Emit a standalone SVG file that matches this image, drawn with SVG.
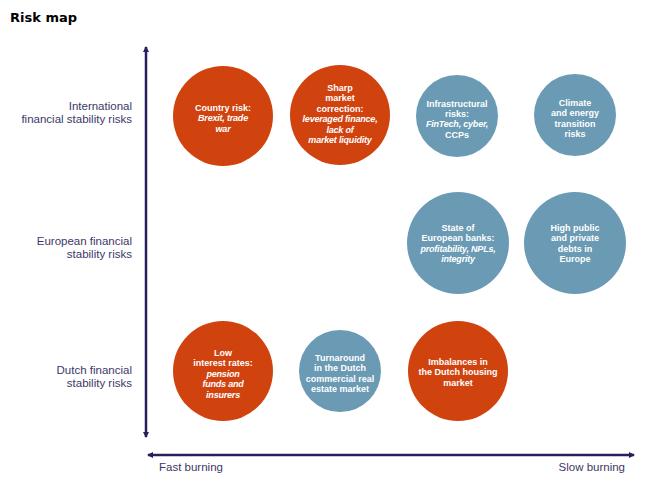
<svg xmlns="http://www.w3.org/2000/svg" width="648" height="483" viewBox="0 0 648 483">
<defs>
<marker id="ah" viewBox="0 0 6 6" refX="5" refY="3" markerWidth="2.4" markerHeight="2.4" orient="auto-start-reverse" markerUnits="strokeWidth">
<path d="M0,0 L6,3 L0,6 z" fill="#2a1f5c"/>
</marker>
<style>
.title{font-family:"DejaVu Sans",sans-serif;font-weight:bold;font-size:13px;fill:#000}
.lab{font-family:"Liberation Sans",Arial,sans-serif;font-size:11.5px;fill:#3d3868}
.c{font-family:"Liberation Sans",Arial,sans-serif;font-size:9px;font-weight:bold;fill:#fff;text-anchor:middle}
.i{font-style:italic;letter-spacing:-0.2px}
.or{fill:#d0430f}
.bl{fill:#6a9ab4}
.ax{stroke:#2a1f5c;stroke-width:2.5;fill:none}
</style>
</defs>
<rect width="648" height="483" fill="#fff"/>
<text class="title" x="10" y="22">Risk map</text>
<g id="labels">
<text class="lab" text-anchor="end"><tspan x="132" y="110">International</tspan><tspan x="132" y="123">financial stability risks</tspan></text>
<text class="lab" text-anchor="end"><tspan x="132" y="245">European financial</tspan><tspan x="132" y="258">stability risks</tspan></text>
<text class="lab" text-anchor="end"><tspan x="132" y="374">Dutch financial</tspan><tspan x="132" y="387">stability risks</tspan></text>
<text class="lab" x="159" y="471">Fast burning</text>
<text class="lab" text-anchor="end" x="625" y="471">Slow burning</text>
</g>
<g id="connectors">
<line class="ax" x1="146" y1="437" x2="146" y2="47" marker-start="url(#ah)" marker-end="url(#ah)"/>
<line class="ax" x1="148" y1="455" x2="634" y2="455" marker-start="url(#ah)" marker-end="url(#ah)"/>
</g>
<g id="country-risk">
<circle class="or" cx="223" cy="116" r="50"/>
<text class="c"><tspan x="223" y="111">Country risk:</tspan><tspan class="i" x="223" y="121.4">Brexit, trade</tspan><tspan class="i" x="223" y="131.8">war</tspan></text>
</g>
<g id="sharp-market">
<circle class="or" cx="340" cy="115" r="50"/>
<text class="c"><tspan x="340" y="91">Sharp</tspan><tspan x="340" y="101.4">market</tspan><tspan x="340" y="111.8">correction:</tspan><tspan class="i" x="340" y="122.2">leveraged finance,</tspan><tspan class="i" x="340" y="132.6">lack of</tspan><tspan class="i" x="340" y="143">market liquidity</tspan></text>
</g>
<g id="infrastructural">
<circle class="bl" cx="457" cy="116" r="41"/>
<text class="c"><tspan x="457" y="106.5">Infrastructural</tspan><tspan x="457" y="116.9">risks:</tspan><tspan class="i" x="457" y="127.3">FinTech, cyber,</tspan><tspan x="457" y="137.7">CCPs</tspan></text>
</g>
<g id="climate">
<circle class="bl" cx="575" cy="115" r="41"/>
<text class="c"><tspan x="575" y="106">Climate</tspan><tspan x="575" y="116.4">and energy</tspan><tspan x="575" y="126.8">transition</tspan><tspan x="575" y="137.2">risks</tspan></text>
</g>
<g id="european-banks">
<circle class="bl" cx="458" cy="243" r="51"/>
<text class="c"><tspan x="458" y="231">State of</tspan><tspan x="458" y="241.4">European banks:</tspan><tspan class="i" x="458" y="251.8">profitability, NPLs,</tspan><tspan class="i" x="458" y="262.2">integrity</tspan></text>
</g>
<g id="public-private-debts">
<circle class="bl" cx="575" cy="243" r="51"/>
<text class="c"><tspan x="575" y="231">High public</tspan><tspan x="575" y="241.4">and private</tspan><tspan x="575" y="251.8">debts in</tspan><tspan x="575" y="262.2">Europe</tspan></text>
</g>
<g id="low-interest">
<circle class="or" cx="223" cy="371" r="50"/>
<text class="c"><tspan x="223" y="356">Low</tspan><tspan x="223" y="366.4">interest rates:</tspan><tspan class="i" x="223" y="376.8">pension</tspan><tspan class="i" x="223" y="387.2">funds and</tspan><tspan class="i" x="223" y="397.6">insurers</tspan></text>
</g>
<g id="commercial-real-estate">
<circle class="bl" cx="340" cy="371" r="41"/>
<text class="c"><tspan x="340" y="361">Turnaround</tspan><tspan x="340" y="371.4">in the Dutch</tspan><tspan x="340" y="381.8">commercial real</tspan><tspan x="340" y="392.2">estate market</tspan></text>
</g>
<g id="housing-market">
<circle class="or" cx="458" cy="371" r="50"/>
<text class="c"><tspan x="458" y="365">Imbalances in</tspan><tspan x="458" y="375.4">the Dutch housing</tspan><tspan x="458" y="385.8">market</tspan></text>
</g>
</svg>
